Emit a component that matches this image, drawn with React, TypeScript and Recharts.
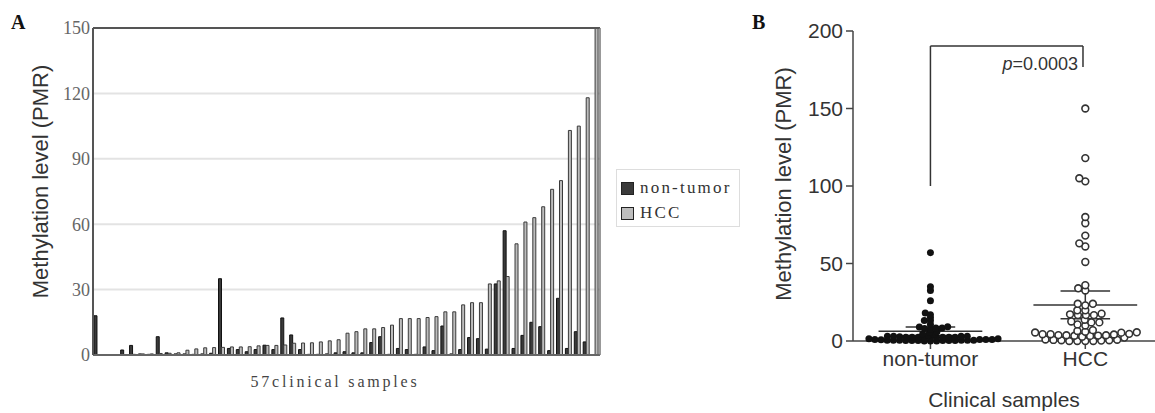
import {
  BarChart,
  Bar,
  XAxis,
  YAxis,
  CartesianGrid,
  ReferenceLine,
  ScatterChart,
  Scatter,
} from "recharts";

// 57 paired samples (PMR values)
const samples = Array.from({ length: 57 }, (_, i) => `${i + 1}`);

const nonTumor = [
  18, 0, 0, 2.3, 4.4, 0.5, 0.3, 8.4, 1, 0.5, 0.5, 0.3, 0.5, 0.8, 35, 3, 2.5, 1.5, 2.5,
  4.5, 2.5, 17, 9.2, 2.5, 0.3, 0.3, 0.5, 1, 1.5, 1, 1, 5.7, 8.4, 0.3, 3, 2.5, 0.3, 3.7,
  2, 13.3, 0.5, 2.5, 8, 7.5, 2.7, 32.6, 57, 3, 9, 15, 13, 2, 26, 3, 10.7, 6, 0,
];

const hcc = [
  0, 0, 0, 0, 0.3, 0.5, 0.5, 0.7, 0.8, 1, 2.2, 2.8, 3.3, 3.4, 3.5, 3.7, 3.7, 3.8, 4.2,
  4.4, 4.4, 4.6, 5.4, 5.5, 5.6, 6, 6.5, 7, 10, 10.7, 12, 12, 12.6, 13.7, 16.7, 16.7, 16.7,
  17.2, 17.6, 19.8, 19.8, 23, 24, 24, 32.6, 34, 36, 51, 61, 63, 68, 76, 80, 103, 105, 118,
  150,
];

const seriesNames = ["non-tumor", "HCC"];
const yTicksA = [0, 30, 60, 90, 120, 150];
const yTicksB = [0, 50, 100, 150, 200];
const groupsB = ["non-tumor", "HCC"];
const pValue = "0.0003";

const barData = samples.map((s, i) => ({ sample: s, nonTumor: nonTumor[i], hcc: hcc[i] }));

// panel B geometry (used for the swarm spacing)
const B_W = 415;
const B_H = 413;
const B_TOP = 31;
const B_XAXIS_H = 72;
const B_YAXIS_W = 113;
const B_XDOMAIN: [number, number] = [0.5, 2.45];
const PX_X = (B_W - B_YAXIS_W) / (B_XDOMAIN[1] - B_XDOMAIN[0]);
const PX_Y = (B_H - B_TOP - B_XAXIS_H) / 200;

// beeswarm, dots may overlap a bit vertically (yk > 1) so the swarm stays narrow
function swarm(values: number[], center: number, diam: number, yk: number) {
  const pts: { dx: number; py: number }[] = [];
  const sorted = [...values].sort((a, b) => a - b);
  return sorted.map((v) => {
    const py = v * PX_Y;
    const cands = [0];
    for (const p of pts) {
      const dy = Math.abs(p.py - py) * yk;
      if (dy < diam) {
        const w = Math.sqrt(diam * diam - dy * dy);
        cands.push(p.dx - w, p.dx + w);
      }
    }
    cands.sort((a, b) => Math.abs(a) - Math.abs(b));
    const dx =
      cands.find((c) =>
        pts.every(
          (p) => (p.dx - c) ** 2 + ((p.py - py) * yk) ** 2 >= diam * diam - 0.01
        )
      ) ?? 0;
    pts.push({ dx, py });
    return { x: center + dx / PX_X, y: v };
  });
}

function meanCI(vals: number[]) {
  const n = vals.length;
  const m = vals.reduce((a, b) => a + b, 0) / n;
  const sd = Math.sqrt(vals.reduce((a, b) => a + (b - m) ** 2, 0) / (n - 1));
  return { m, h: (2.003 * sd) / Math.sqrt(n) };
}

const swarmNT = swarm(nonTumor, 1, 6.2, 2.2);
const swarmHCC = swarm(hcc, 2, 8.0, 1.7);
const statsB = [meanCI(nonTumor), meanCI(hcc)];

const Dot = (p: any) => <circle cx={p.cx} cy={p.cy} r={3.5} fill="#111" />;
const Ring = (p: any) => (
  <circle cx={p.cx} cy={p.cy} r={3.4} fill="#fff" stroke="#333" strokeWidth={1.6} />
);

const YTitle = ({ viewBox, dx, dy }: any) => {
  const cx = viewBox.x + dx;
  const cy = viewBox.y + viewBox.height / 2 + dy;
  return (
    <text
      x={cx}
      y={cy}
      transform={`rotate(-90 ${cx} ${cy})`}
      textAnchor="middle"
      dominantBaseline="central"
      fontFamily="Liberation Sans"
      fontSize={22}
      fill="#333"
    >
      Methylation level (PMR)
    </text>
  );
};

const XTitleA = ({ viewBox }: any) => (
  <text
    x={335}
    y={viewBox.y + 32}
    textAnchor="middle"
    fontFamily="Liberation Serif"
    fontSize={16}
    letterSpacing={2.8}
    fill="#444"
  >
    57clinical samples
  </text>
);

const PLabel = ({ viewBox }: any) => (
  <text
    x={viewBox.x - 5}
    y={viewBox.y + 24}
    textAnchor="end"
    fontFamily="Liberation Sans"
    fontSize={18}
    fill="#333"
  >
    <tspan fontStyle="italic">p</tspan>={pValue}
  </text>
);

const panelLetter = {
  position: "absolute" as const,
  fontFamily: "Liberation Serif",
  fontWeight: 700,
  fontSize: 20,
  lineHeight: "20px",
  color: "#111",
};

export default function App() {
  return (
    <div
      style={{
        position: "absolute",
        left: 0,
        top: 0,
        width: 1155,
        height: 413,
        background: "#fff",
        overflow: "hidden",
      }}
    >
      <div style={{ ...panelLetter, left: 11, top: 12 }}>A</div>
      <div style={{ ...panelLetter, left: 752, top: 12 }}>B</div>

      {/* Panel A: paired bars */}
      <div style={{ position: "absolute", left: 0, top: 0 }}>
        <BarChart
          width={612}
          height={413}
          data={barData}
          margin={{ top: 28, right: 0, bottom: 0, left: 0 }}
          barCategoryGap="11%"
          barGap={0}
        >
          <CartesianGrid vertical={false} stroke="#e3e3e3" strokeWidth={2} />
          <XAxis
            dataKey="sample"
            tick={false}
            tickLine={false}
            height={58}
            axisLine={{ stroke: "#666", strokeWidth: 2 }}
            label={<XTitleA />}
          />
          <YAxis
            domain={[0, 150]}
            ticks={yTicksA}
            interval={0}
            width={93}
            tickLine={false}
            tickSize={0}
            tickMargin={3}
            axisLine={{ stroke: "#555", strokeWidth: 2 }}
            tick={{ fontFamily: "Liberation Serif", fontSize: 18, fill: "#666" }}
            label={<YTitle dx={40} dy={-10} />}
          />
          <YAxis
            yAxisId="frame"
            orientation="right"
            width={12}
            tick={false}
            tickLine={false}
            axisLine={{ stroke: "#777", strokeWidth: 1.5 }}
          />
          <ReferenceLine y={150} stroke="#555" strokeWidth={2} />
          <Bar
            dataKey="nonTumor"
            name={seriesNames[0]}
            fill="#3a3a3a"
            stroke="#111"
            strokeWidth={1}
            isAnimationActive={false}
          />
          <Bar
            dataKey="hcc"
            name={seriesNames[1]}
            fill="#bdbdbd"
            stroke="#3a3a3a"
            strokeWidth={1}
            isAnimationActive={false}
          />
        </BarChart>
      </div>

      {/* Panel A legend */}
      <div
        style={{
          position: "absolute",
          left: 616,
          top: 169,
          width: 122,
          height: 56,
          border: "1px solid #ddd",
          fontFamily: "Liberation Serif",
          fontSize: 17,
          letterSpacing: 2.2,
          color: "#333",
        }}
      >
        {seriesNames.map((n, i) => (
          <div
            key={n}
            style={{
              position: "absolute",
              left: 4,
              top: 10 + i * 25,
              display: "flex",
              alignItems: "center",
              height: 16,
            }}
          >
            <span
              style={{
                display: "inline-block",
                width: 11,
                height: 11,
                border: "1.5px solid #222",
                background: i === 0 ? "#3a3a3a" : "#bdbdbd",
                marginRight: 6,
              }}
            />
            <span>{n}</span>
          </div>
        ))}
      </div>

      {/* Panel B: scatter with mean and 95% CI */}
      <div style={{ position: "absolute", left: 740, top: 0 }}>
        <ScatterChart
          width={B_W}
          height={B_H}
          margin={{ top: B_TOP, right: 0, bottom: 0, left: 0 }}
        >
          <XAxis
            type="number"
            dataKey="x"
            domain={B_XDOMAIN}
            ticks={[1, 2]}
            interval={0}
            allowDataOverflow
            height={B_XAXIS_H}
            tickSize={8}
            tickMargin={2}
            tickFormatter={(v: number) => groupsB[Math.round(v) - 1]}
            axisLine={{ stroke: "#444", strokeWidth: 1.5 }}
            tickLine={{ stroke: "#444", strokeWidth: 1.5 }}
            tick={{ fontFamily: "Liberation Sans", fontSize: 21, fill: "#333" }}
            label={{
              value: "Clinical samples",
              position: "insideBottom",
              offset: 6,
              style: { fontFamily: "Liberation Sans", fontSize: 21, fill: "#333" },
            }}
          />
          <YAxis
            type="number"
            dataKey="y"
            domain={[0, 200]}
            ticks={yTicksB}
            interval={0}
            width={B_YAXIS_W}
            tickSize={7}
            tickMargin={3}
            axisLine={{ stroke: "#444", strokeWidth: 1.5 }}
            tickLine={{ stroke: "#444", strokeWidth: 1.5 }}
            tick={{ fontFamily: "Liberation Sans", fontSize: 21, fill: "#333" }}
            label={<YTitle dx={43} dy={-2} />}
          />
          <Scatter data={swarmNT} shape={Dot} isAnimationActive={false} />
          <Scatter data={swarmHCC} shape={Ring} isAnimationActive={false} />
          {statsB.map((s, i) => {
            const c = i + 1;
            return [
              <ReferenceLine
                key={`m${i}`}
                segment={[
                  { x: c - 0.335, y: s.m },
                  { x: c + 0.335, y: s.m },
                ]}
                stroke="#333"
                strokeWidth={1.5}
              />,
              <ReferenceLine
                key={`u${i}`}
                segment={[
                  { x: c - 0.16, y: s.m + s.h },
                  { x: c + 0.16, y: s.m + s.h },
                ]}
                stroke="#333"
                strokeWidth={1.5}
              />,
              <ReferenceLine
                key={`l${i}`}
                segment={[
                  { x: c - 0.16, y: s.m - s.h },
                  { x: c + 0.16, y: s.m - s.h },
                ]}
                stroke="#333"
                strokeWidth={1.5}
              />,
              <ReferenceLine
                key={`v${i}`}
                segment={[
                  { x: c, y: s.m - s.h },
                  { x: c, y: s.m + s.h },
                ]}
                stroke="#333"
                strokeWidth={1.5}
              />,
            ];
          })}
          {/* significance bracket */}
          <ReferenceLine
            segment={[
              { x: 1, y: 100 },
              { x: 1, y: 190.3 },
            ]}
            stroke="#333"
            strokeWidth={1.5}
          />
          <ReferenceLine
            segment={[
              { x: 1, y: 190.3 },
              { x: 1.985, y: 190.3 },
            ]}
            stroke="#333"
            strokeWidth={1.5}
          />
          <ReferenceLine
            segment={[
              { x: 1.985, y: 176.8 },
              { x: 1.985, y: 190.3 },
            ]}
            stroke="#333"
            strokeWidth={1.5}
            label={<PLabel />}
          />
        </ScatterChart>
      </div>
    </div>
  );
}
